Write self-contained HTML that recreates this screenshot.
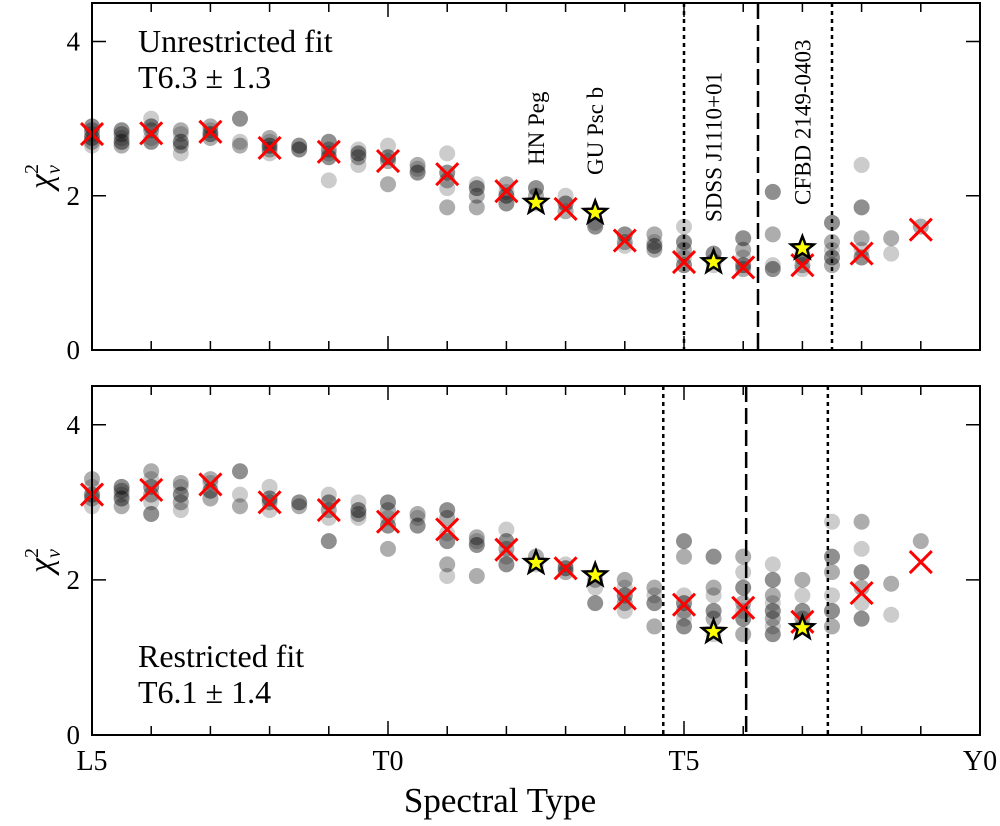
<!DOCTYPE html>
<html><head><meta charset="utf-8"><style>
body{margin:0;background:#fff;}
svg{display:block;font-family:"Liberation Serif",serif;}
</style></head><body>
<svg id="chart" width="1000" height="826" viewBox="0 0 1000 826" xmlns="http://www.w3.org/2000/svg"></svg>
<script>
const xTickLabels=["L5","T0","T5","Y0"];
const xTickVals=[0,5,10,15];
const yTickVals=[0,2,4];
const crossX=[0,1,2,3,4,5,6,7,8,9,10,11,12,13,14];
const topCross=[2.8,2.81,2.83,2.62,2.57,2.45,2.28,2.06,1.83,1.42,1.14,1.07,1.1,1.25,1.56];
const botCross=[3.1,3.16,3.23,3.0,2.9,2.75,2.65,2.39,2.15,1.76,1.68,1.64,1.46,1.83,2.23];
const starX=[7.5,8.5,10.5,12];
const topStar=[1.91,1.78,1.14,1.32];
const botStar=[2.22,2.06,1.33,1.38];
const starNames=["HN Peg","GU Psc b","SDSS J1110+01","CFBD 2149-0403"];
const colX=[0,0.5,1,1.5,2,2.5,3,3.5,4,4.5,5,5.5,6,6.5,7,7.5,8,8.5,9,9.5,10,10.5,11,11.5,12,12.5,13,13.5,14];
const topCols=[[2.65,2.7,2.75,2.8,2.85,2.9],[2.65,2.7,2.75,2.8,2.85],[2.7,2.75,2.85,2.9,3.0],[2.55,2.65,2.7,2.8,2.85],[2.75,2.8,2.85,2.9],[3.0,2.7,2.65],[2.55,2.6,2.65,2.7,2.75],[2.6,2.65,2.6],[2.5,2.55,2.6,2.7,2.2],[2.4,2.5,2.55,2.6],[2.45,2.5,2.65,2.15],[2.3,2.35,2.4],[2.1,2.2,2.3,2.55,1.85],[2.0,2.1,2.15,1.85],[2.0,2.05,2.15,1.9],[1.9,2.0,2.1],[1.8,1.9,2.0],[1.6,1.65],[1.35,1.4,1.5],[1.3,1.35,1.4,1.5],[1.1,1.2,1.3,1.4,1.6],[1.1,1.15,1.25],[1.05,1.1,1.2,1.3,1.45],[1.05,1.1,1.5,2.05],[1.05,1.1,1.2,1.25],[1.1,1.2,1.3,1.4,1.65],[1.2,1.3,1.45,1.85,2.4],[1.25,1.45],[1.6]];
const botCols=[[2.95,3.05,3.1,3.2,3.3],[2.95,3.05,3.1,3.15,3.2],[2.85,3.0,3.1,3.2,3.3,3.4],[2.9,3.0,3.1,3.2,3.25],[3.05,3.15,3.25,3.3],[3.4,3.1,2.95],[2.9,3.0,3.05,3.2],[2.95,3.0],[2.5,2.8,2.9,3.0,3.1],[2.8,2.85,2.9,3.0],[2.4,2.7,2.8,2.9,3.0],[2.7,2.8,2.85],[2.05,2.2,2.5,2.6,2.8,2.9],[2.05,2.45,2.5,2.55],[2.2,2.3,2.4,2.5,2.65],[2.2,2.3],[2.1,2.15,2.2],[1.7,1.9,2.0],[1.6,1.7,1.8,1.9,2.0],[1.4,1.7,1.8,1.9],[1.4,1.5,1.6,1.7,1.8,2.3,2.5],[1.3,1.5,1.6,1.8,1.9,2.3],[1.3,1.5,1.6,1.7,1.9,2.1,2.3],[1.3,1.4,1.5,1.6,1.7,1.8,2.0,2.2],[1.4,1.5,1.6,1.8,2.0],[1.4,1.6,1.8,2.1,2.3,2.75],[1.5,1.7,1.9,2.1,2.4,2.75],[1.55,1.95],[2.5]];
const topRange=[10.0,11.25,12.5];
const botRange=[9.65,11.05,12.43];
const NS="http://www.w3.org/2000/svg";
const svg=document.getElementById('chart');
const X0=92,X1=980;
const sx=v=>X0+(X1-X0)*v/15;
function mk(tag,at,parent){const e=document.createElementNS(NS,tag);for(const k in at)e.setAttribute(k,at[k]);(parent||svg).appendChild(e);return e;}
function star(cx,cy,r){let p=[];for(let i=0;i<10;i++){const a=-Math.PI/2+i*Math.PI/5;const rr=i%2?r*0.42:r;p.push((cx+rr*Math.cos(a)).toFixed(1)+","+(cy+rr*Math.sin(a)).toFixed(1));}return p.join(" ");}
function panel(name,top,bottom,cols,crosses,stars,range,labels,txt1,txt2,txtY){
  const sy=v=>bottom-(bottom-top)*v/4.5;
  const g=mk('g',{});
  
  
  const pg=mk('g',{},g);
  
  
  cols.forEach((c,i)=>c.forEach((v,j)=>{const e=mk('circle',{cx:sx(colX[i]),cy:sy(v),r:8,fill:'#000','fill-opacity':(0.2+0.12*((i+j)%3))},pg);
    
    }));
  range.forEach((v,i)=>{const e=mk('line',{x1:sx(v),x2:sx(v),y1:top,y2:bottom,stroke:'#000','stroke-width':2.5,'stroke-dasharray':i==1?'16,6':'4,4'},g);
    
    });
  crosses.forEach((v,i)=>{const x=sx(crossX[i]),y=sy(v),d=11;
    const e=mk('path',{d:`M${x-d},${y-d}L${x+d},${y+d}M${x-d},${y+d}L${x+d},${y-d}`,stroke:'#f00','stroke-width':3,fill:'none'},g);
    
    });
  stars.forEach((v,i)=>{const e=mk('polygon',{points:star(sx(starX[i]),sy(v),12),fill:'#ff0',stroke:'#000','stroke-width':2.5},g);
    
    });
  const f=mk('rect',{x:X0,y:top,width:X1-X0,height:bottom-top,fill:'none',stroke:'#000','stroke-width':2},g);
  
  
  for(let k=0;k<=15;k++){const x=sx(k),L=xTickVals.includes(k)?14:9;
    const t=mk('path',{d:`M${x},${bottom}v${-L}M${x},${top}v${L}`,stroke:'#000','stroke-width':1.5},g);
    
    }
  yTickVals.forEach(v=>{const y=sy(v);
    const t=mk('path',{d:`M${X0},${y}h14M${X1},${y}h-14`,stroke:'#000','stroke-width':1.5},g);
    
    
    const l=mk('text',{x:80,y:y+9,'font-size':27,'text-anchor':'end'},g);l.textContent=v;
    
    });
  const yl=mk('text',{x:0,y:0,'font-size':34,'font-style':'italic',transform:`translate(52,${(top+bottom)/2}) rotate(-90)`,'text-anchor':'middle'},g);
  yl.innerHTML='χ<tspan font-size="20" dy="-14" font-style="normal">2</tspan><tspan font-size="20" dy="22" dx="-10">ν</tspan>';
  
  
  [txt1,txt2].forEach((s,i)=>{const t=mk('text',{x:138,y:txtY+i*36,'font-size':32},g);t.textContent=s;
    
    });
  if(labels){const ly=[165,175,222,205];
    starNames.forEach((s,i)=>{const t=mk('text',{'font-size':23,transform:`translate(${sx(starX[i])+8},${ly[i]}) rotate(-90)`},g);t.textContent=s;
      
      });}
}
panel('top-panel',3,350,topCols,topCross,topStar,topRange,true,'Unrestricted fit','T6.3 ± 1.3',52);
panel('bottom-panel',386,735,botCols,botCross,botStar,botRange,false,'Restricted fit','T6.1 ± 1.4',667);
xTickVals.forEach((v,i)=>{const t=mk('text',{x:sx(v),y:770,'font-size':28,'text-anchor':'middle'});t.textContent=xTickLabels[i];
  
  });
const xt=mk('text',{x:500,y:812,'font-size':35,'text-anchor':'middle'});xt.textContent='Spectral Type';


</script>
</body></html>
